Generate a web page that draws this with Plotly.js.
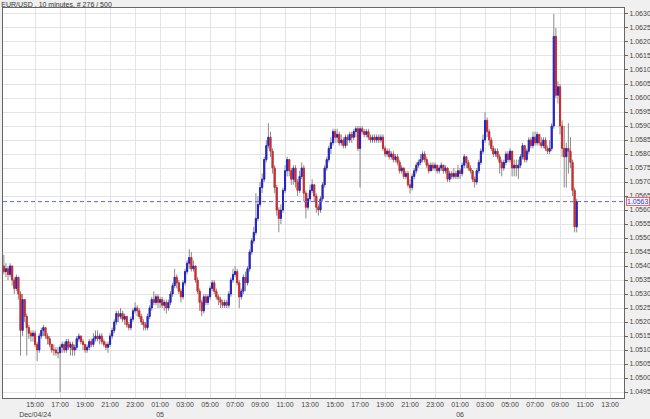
<!DOCTYPE html>
<html><head><meta charset="utf-8">
<script src="https://cdn.plot.ly/plotly-3.0.1.min.js"></script>
<style>html,body{margin:0;padding:0;background:#f0f0f0;}#chart{width:650px;height:419px;}</style>
</head><body><div id="chart"></div>
<script>
var chartTitle = "EUR/USD , 10 minutes, # 276 / 500";
var startDay = 4, startMinute = 12*60+30, stepMinutes = 10; // first bar 2024-12-04 12:30
var firstOpen = 1.0540;
var closes = [
1.0538,1.0539,1.0537,1.0540,1.0535,1.0532,1.0536,1.0530,1.0517,1.0528,
1.0522,1.0518,1.0516,1.0515,1.0516,1.0512,1.0510,1.0515,1.0517,1.0518,
1.0515,1.0514,1.0512,1.0510,1.0510,1.0509,1.0509,1.0511,1.0512,1.0510,
1.0513,1.0511,1.0512,1.0510,1.0511,1.0514,1.0515,1.0513,1.0512,1.0510,
1.0511,1.0513,1.0512,1.0514,1.0515,1.0514,1.0515,1.0513,1.0512,1.0511,
1.0512,1.0515,1.0517,1.0520,1.0523,1.0522,1.0523,1.0521,1.0522,1.0519,
1.0518,1.0521,1.0524,1.0525,1.0524,1.0522,1.0520,1.0519,1.0518,1.0522,
1.0525,1.0528,1.0527,1.0529,1.0527,1.0528,1.0526,1.0527,1.0525,1.0527,
1.0530,1.0533,1.0536,1.0534,1.0531,1.0529,1.0534,1.0538,1.0541,1.0543,
1.0539,1.0540,1.0535,1.0531,1.0527,1.0524,1.0529,1.0527,1.0529,1.0532,
1.0534,1.0531,1.0529,1.0528,1.0527,1.0526,1.0527,1.0526,1.0530,1.0535,
1.0537,1.0538,1.0534,1.0529,1.0531,1.0536,1.0534,1.0539,1.0545,1.0549,
1.0552,1.0557,1.0562,1.0568,1.0571,1.0578,1.0583,1.0586,1.0581,1.0575,
1.0568,1.0560,1.0557,1.0560,1.0567,1.0574,1.0578,1.0574,1.0571,1.0575,
1.0570,1.0567,1.0572,1.0575,1.0566,1.0561,1.0564,1.0567,1.0569,1.0565,
1.0561,1.0560,1.0564,1.0569,1.0575,1.0578,1.0582,1.0584,1.0588,1.0586,
1.0587,1.0584,1.0585,1.0583,1.0586,1.0585,1.0587,1.0586,1.0588,1.0589,
1.0582,1.0589,1.0588,1.0587,1.0588,1.0586,1.0585,1.0586,1.0585,1.0586,
1.0585,1.0586,1.0582,1.0580,1.0581,1.0579,1.0580,1.0578,1.0579,1.0577,
1.0574,1.0575,1.0572,1.0573,1.0569,1.0568,1.0572,1.0574,1.0576,1.0577,
1.0578,1.0580,1.0578,1.0576,1.0574,1.0576,1.0575,1.0576,1.0574,1.0575,
1.0576,1.0574,1.0575,1.0571,1.0573,1.0572,1.0573,1.0572,1.0574,1.0573,
1.0576,1.0579,1.0577,1.0575,1.0574,1.0571,1.0570,1.0574,1.0577,1.0581,
1.0585,1.0592,1.0588,1.0585,1.0582,1.0580,1.0581,1.0579,1.0577,1.0575,
1.0577,1.0580,1.0578,1.0581,1.0575,1.0576,1.0575,1.0576,1.0579,1.0583,
1.0578,1.0581,1.0585,1.0583,1.0586,1.0584,1.0587,1.0584,1.0583,1.0585,
1.0582,1.0581,1.0582,1.0590,1.0622,1.0601,1.0604,1.0590,1.0582,1.0579,
1.0582,1.0581,1.0577,1.0567,1.0554,1.0563];
var highs = [
1.0544,1.0541,1.0540,1.0541,1.0540,1.0536,1.0537,1.0536,1.0531,1.0530,
1.0528,1.0523,1.0519,1.0517,1.0517,1.0517,1.0513,1.0516,1.0518,1.0519,
1.0518,1.0516,1.0515,1.0512,1.0512,1.0511,1.0511,1.0512,1.0513,1.0513,
1.0514,1.0514,1.0513,1.0513,1.0512,1.0515,1.0516,1.0515,1.0514,1.0512,
1.0512,1.0514,1.0514,1.0516,1.0517,1.0517,1.0516,1.0516,1.0514,1.0513,
1.0513,1.0516,1.0518,1.0521,1.0524,1.0524,1.0525,1.0524,1.0523,1.0522,
1.0520,1.0522,1.0525,1.0527,1.0526,1.0525,1.0523,1.0521,1.0520,1.0523,
1.0526,1.0529,1.0531,1.0530,1.0530,1.0529,1.0529,1.0528,1.0528,1.0528,
1.0531,1.0534,1.0539,1.0537,1.0535,1.0532,1.0535,1.0539,1.0542,1.0546,
1.0545,1.0542,1.0540,1.0536,1.0532,1.0528,1.0530,1.0530,1.0530,1.0533,
1.0535,1.0535,1.0532,1.0530,1.0529,1.0528,1.0528,1.0528,1.0531,1.0536,
1.0539,1.0540,1.0539,1.0535,1.0532,1.0537,1.0538,1.0540,1.0546,1.0550,
1.0554,1.0566,1.0565,1.0570,1.0573,1.0579,1.0585,1.0591,1.0588,1.0582,
1.0576,1.0569,1.0561,1.0562,1.0568,1.0576,1.0579,1.0578,1.0575,1.0576,
1.0576,1.0571,1.0574,1.0577,1.0576,1.0567,1.0566,1.0569,1.0571,1.0569,
1.0566,1.0562,1.0565,1.0570,1.0576,1.0579,1.0583,1.0586,1.0589,1.0589,
1.0589,1.0588,1.0587,1.0586,1.0587,1.0587,1.0588,1.0588,1.0589,1.0590,
1.0590,1.0590,1.0590,1.0589,1.0589,1.0589,1.0587,1.0587,1.0587,1.0587,
1.0587,1.0587,1.0587,1.0583,1.0582,1.0582,1.0581,1.0581,1.0580,1.0580,
1.0578,1.0576,1.0575,1.0574,1.0574,1.0571,1.0573,1.0575,1.0577,1.0578,
1.0580,1.0581,1.0581,1.0579,1.0577,1.0577,1.0577,1.0577,1.0576,1.0576,
1.0577,1.0576,1.0576,1.0575,1.0574,1.0574,1.0575,1.0574,1.0576,1.0575,
1.0577,1.0580,1.0579,1.0578,1.0576,1.0574,1.0572,1.0575,1.0578,1.0582,
1.0587,1.0595,1.0593,1.0589,1.0586,1.0583,1.0582,1.0582,1.0580,1.0578,
1.0578,1.0581,1.0581,1.0582,1.0581,1.0578,1.0578,1.0578,1.0580,1.0584,
1.0583,1.0582,1.0586,1.0586,1.0588,1.0588,1.0588,1.0587,1.0586,1.0586,
1.0586,1.0583,1.0585,1.0591,1.0630,1.0625,1.0606,1.0605,1.0592,1.0590,
1.0584,1.0591,1.0586,1.0578,1.0568,1.0564];
var lows = [
1.0537,1.0536,1.0535,1.0536,1.0533,1.0530,1.0531,1.0528,1.0508,1.0515,
1.0520,1.0508,1.0514,1.0513,1.0513,1.0511,1.0506,1.0509,1.0514,1.0515,
1.0514,1.0512,1.0511,1.0509,1.0508,1.0508,1.0507,1.0495,1.0509,1.0509,
1.0509,1.0510,1.0508,1.0508,1.0508,1.0510,1.0513,1.0512,1.0510,1.0509,
1.0509,1.0510,1.0511,1.0511,1.0513,1.0513,1.0512,1.0512,1.0511,1.0510,
1.0509,1.0511,1.0514,1.0516,1.0519,1.0520,1.0521,1.0520,1.0519,1.0518,
1.0517,1.0517,1.0520,1.0523,1.0522,1.0521,1.0519,1.0517,1.0517,1.0517,
1.0521,1.0524,1.0526,1.0526,1.0525,1.0525,1.0525,1.0524,1.0523,1.0524,
1.0526,1.0529,1.0532,1.0532,1.0530,1.0527,1.0528,1.0533,1.0537,1.0539,
1.0538,1.0538,1.0534,1.0530,1.0524,1.0522,1.0523,1.0526,1.0526,1.0528,
1.0531,1.0530,1.0528,1.0526,1.0525,1.0525,1.0525,1.0525,1.0525,1.0529,
1.0534,1.0536,1.0533,1.0525,1.0528,1.0530,1.0531,1.0533,1.0538,1.0544,
1.0548,1.0551,1.0556,1.0561,1.0566,1.0570,1.0577,1.0582,1.0579,1.0573,
1.0566,1.0558,1.0552,1.0555,1.0559,1.0566,1.0572,1.0572,1.0569,1.0569,
1.0568,1.0565,1.0566,1.0571,1.0563,1.0557,1.0560,1.0563,1.0566,1.0563,
1.0559,1.0558,1.0559,1.0563,1.0568,1.0574,1.0577,1.0580,1.0583,1.0584,
1.0584,1.0583,1.0583,1.0582,1.0582,1.0583,1.0584,1.0584,1.0585,1.0586,
1.0581,1.0568,1.0587,1.0586,1.0586,1.0585,1.0584,1.0584,1.0584,1.0584,
1.0584,1.0584,1.0581,1.0579,1.0579,1.0578,1.0578,1.0577,1.0577,1.0576,
1.0573,1.0573,1.0571,1.0571,1.0568,1.0566,1.0567,1.0571,1.0573,1.0575,
1.0576,1.0577,1.0577,1.0575,1.0573,1.0574,1.0574,1.0574,1.0573,1.0573,
1.0574,1.0573,1.0573,1.0570,1.0570,1.0571,1.0571,1.0571,1.0571,1.0571,
1.0572,1.0575,1.0575,1.0574,1.0573,1.0570,1.0568,1.0569,1.0573,1.0576,
1.0580,1.0584,1.0586,1.0583,1.0581,1.0579,1.0579,1.0578,1.0573,1.0572,
1.0574,1.0576,1.0577,1.0577,1.0572,1.0572,1.0572,1.0571,1.0575,1.0578,
1.0577,1.0577,1.0580,1.0582,1.0582,1.0583,1.0583,1.0583,1.0582,1.0582,
1.0581,1.0580,1.0580,1.0581,1.0589,1.0600,1.0598,1.0587,1.0579,1.0568,
1.0568,1.0573,1.0575,1.0565,1.0552,1.0552];
var tickVals = [
"2024-12-04 15:00","2024-12-04 17:00","2024-12-04 19:00","2024-12-04 21:00","2024-12-04 23:00",
"2024-12-05 01:00","2024-12-05 03:00","2024-12-05 05:00","2024-12-05 07:00","2024-12-05 09:00",
"2024-12-05 11:00","2024-12-05 13:00","2024-12-05 15:00","2024-12-05 17:00","2024-12-05 19:00",
"2024-12-05 21:00","2024-12-05 23:00","2024-12-06 01:00","2024-12-06 03:00","2024-12-06 05:00",
"2024-12-06 07:00","2024-12-06 09:00","2024-12-06 11:00","2024-12-06 13:00"];
var tickText = [
"15:00<br>Dec/04/24","17:00","19:00","21:00","23:00",
"01:00<br>05","03:00","05:00","07:00","09:00",
"11:00","13:00","15:00","17:00","19:00",
"21:00","23:00","01:00<br>06","03:00","05:00",
"07:00","09:00","11:00","13:00"];
var xRange = ["2024-12-04 12:26", "2024-12-06 14:07"];
var yRange = [1.049286, 1.063214];

function pad(n){return (n<10?'0':'')+n;}
var times = [], opens = [];
for (var i=0;i<closes.length;i++){
  var m = startMinute + i*stepMinutes;
  var d = startDay + Math.floor(m/1440); m = m % 1440;
  times.push('2024-12-'+pad(d)+' '+pad(Math.floor(m/60))+':'+pad(m%60));
  opens.push(i===0 ? firstOpen : closes[i-1]);
}
var bodyHi = [], bodyLo = [], wHi = [], wLo = [];
for (var i=0;i<closes.length;i++){
  bodyHi.push(Math.max(opens[i],closes[i])); bodyLo.push(Math.min(opens[i],closes[i]));
  wHi.push(Math.max(highs[i],bodyHi[i])); wLo.push(Math.min(lows[i],bodyLo[i]));
}
var gray = '#8a8a8a', blue = '#2424c8', red = '#d42a2a';
var wicks = {type:'candlestick', x:times, open:opens, high:wHi, low:wLo, close:closes,
  increasing:{line:{color:gray,width:1},fillcolor:gray},
  decreasing:{line:{color:gray,width:1},fillcolor:gray},
  hoverinfo:'skip', showlegend:false};
var bodies = {type:'candlestick', x:times, open:opens, high:bodyHi, low:bodyLo, close:closes,
  increasing:{line:{color:blue,width:1},fillcolor:blue},
  decreasing:{line:{color:red,width:1},fillcolor:red},
  hoverinfo:'skip', showlegend:false};
var lastPrice = closes[closes.length-1];
var fnt = {family:'"Liberation Sans", Arial, sans-serif', size:7, color:'#444'};
var layout = {
  width:650, height:419,
  margin:{l:3, r:26, t:8, b:21, pad:0},
  paper_bgcolor:'#f0f0f0', plot_bgcolor:'#ffffff',
  showlegend:false,
  title:{text:chartTitle, font:{family:fnt.family, size:7, color:'#333'}, xref:'container', yref:'container', x:0.002, xanchor:'left', y:0.995, yanchor:'top'},
  xaxis:{type:'date', range:xRange, rangeslider:{visible:false}, tickmode:'array', tickvals:tickVals, ticktext:tickText, tickangle:0,
    showgrid:true, gridcolor:'#e4e4e4', gridwidth:1, showline:true, linecolor:'#666', linewidth:1, mirror:true,
    ticks:'', tickfont:fnt, zeroline:false, fixedrange:true},
  yaxis:{side:'right', range:yRange, dtick:0.0005, tick0:1.0495, tickformat:'.4f', showgrid:true, gridcolor:'#e4e4e4', gridwidth:1,
    showline:true, linecolor:'#666', linewidth:1, mirror:true, ticks:'outside', ticklen:3, tickcolor:'#666', tickfont:fnt, zeroline:false, fixedrange:true},
  shapes:[{type:'line', xref:'paper', x0:0, x1:1, yref:'y', y0:lastPrice, y1:lastPrice, line:{color:'#6464e8', width:1, dash:'4px,3px'}}],
  annotations:[{xref:'paper', x:1, xanchor:'left', xshift:2, yref:'y', y:lastPrice, yanchor:'middle', text:lastPrice.toFixed(4), showarrow:false,
    font:{family:fnt.family, size:7, color:'#3a3ad8'}, bgcolor:'#f4f4ff', bordercolor:'#e06a6a', borderwidth:1, borderpad:0}]
};
Plotly.newPlot('chart', [wicks, bodies], layout, {displayModeBar:false, staticPlot:true});
</script></body></html>
